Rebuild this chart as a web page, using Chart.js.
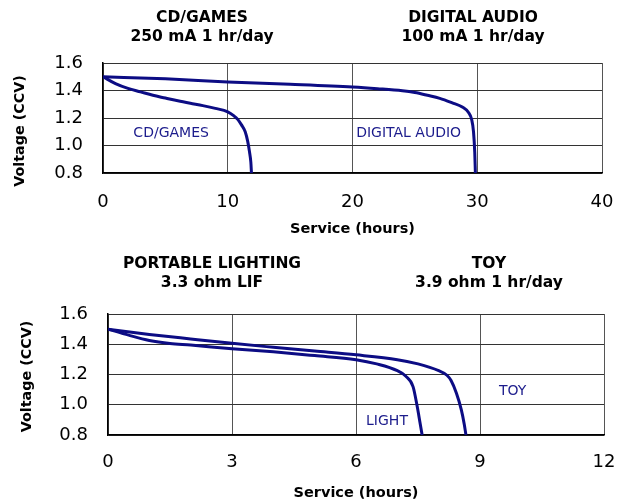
<!DOCTYPE html>
<html>
<head>
<meta charset="utf-8">
<script src="https://cdn.jsdelivr.net/npm/chart.js@4.4.1/dist/chart.umd.min.js"></script>
<style>
	html, body { margin: 0; padding: 0; background: #fff; }
	body { width: 623px; height: 502px; position: relative; overflow: hidden; }
	canvas { position: absolute; left: 0; }
</style>
</head>
<body>
<canvas id="topChart" width="623" height="250" style="top:0"></canvas>
<canvas id="bottomChart" width="623" height="252" style="top:250px"></canvas>
<script>
// Top chart: service hours vs closed circuit voltage
var cdHours = [0, 1, 2, 3, 4, 5, 6, 7, 8, 9, 10, 10.5, 10.8, 11.1, 11.4, 11.6, 11.75, 11.85, 11.9];
var cdVolts = [1.5, 1.45, 1.415, 1.39, 1.365, 1.345, 1.325, 1.307, 1.29, 1.27, 1.245, 1.215, 1.19, 1.15, 1.1, 1.03, 0.95, 0.88, 0.8];

var audioHours = [0, 5, 10, 15, 20, 22, 24, 25, 26, 27, 28, 28.8, 29.3, 29.55, 29.7, 29.8, 29.85];
var audioVolts = [1.5, 1.485, 1.462, 1.445, 1.425, 1.413, 1.398, 1.385, 1.365, 1.343, 1.31, 1.28, 1.24, 1.19, 1.1, 0.95, 0.8];

var topXTicks = [0, 10, 20, 30, 40];

// Bottom chart
var lightHours = [0, 0.5, 1, 1.5, 2, 3, 4, 5, 6, 6.5, 7, 7.2, 7.38, 7.48, 7.55, 7.6];
var lightVolts = [1.5, 1.46, 1.425, 1.405, 1.395, 1.37, 1.35, 1.325, 1.298, 1.27, 1.225, 1.19, 1.12, 0.99, 0.88, 0.8];

var toyHours = [0, 1, 2, 3, 4, 5, 6, 7, 7.5, 8, 8.2, 8.3, 8.43, 8.55, 8.62, 8.66];
var toyVolts = [1.5, 1.465, 1.435, 1.406, 1.38, 1.355, 1.33, 1.298, 1.27, 1.225, 1.195, 1.16, 1.076, 0.965, 0.87, 0.8];

var bottomXTicks = [0, 3, 6, 9, 12];
var voltTicks = [0.8, 1.0, 1.2, 1.4, 1.6];

var lineColor = '#0c0c84';
var textColor = '#1c1c8c';

function toPoints(xs, ys) {
	return xs.map(function (x, i) { return { x: x, y: ys[i] }; });
}

// draws the headings, the curve labels and the rotated y title
var notesPlugin = {
	id: 'notes',
	afterDraw: function (chart) {
		var opts = chart.options.plugins.notes;
		var ctx = chart.ctx;
		var area = chart.chartArea;
		ctx.save();
		ctx.textAlign = 'center';
		ctx.textBaseline = 'middle';

		ctx.fillStyle = '#000';
		ctx.font = 'bold 15.5px "DejaVu Sans"';
		opts.headings.forEach(function (h) {
			ctx.fillText(h.lines[0], h.x, h.y);
			ctx.fillText(h.lines[1], h.x, h.y + 19);
		});

		ctx.fillStyle = textColor;
		ctx.font = '14px "DejaVu Sans"';
		opts.labels.forEach(function (l) {
			ctx.fillText(l.text, chart.scales.x.getPixelForValue(l.x), chart.scales.y.getPixelForValue(l.y));
		});

		ctx.fillStyle = '#000';
		ctx.font = 'bold 14.3px "DejaVu Sans"';
		ctx.translate(opts.yTitle.x, (area.top + area.bottom) / 2 + opts.yTitle.dy);
		ctx.rotate(-Math.PI / 2);
		ctx.fillText(opts.yTitle.text, 0, 0);
		ctx.restore();
	}
};

function makeChart(id, cfg) {
	var ctx = document.getElementById(id).getContext('2d');
	return new Chart(ctx, {
		type: 'line',
		data: {
			datasets: cfg.series.map(function (s) {
				return {
					data: s,
					borderColor: lineColor,
					borderWidth: 3,
					pointRadius: 0,
					fill: false,
					cubicInterpolationMode: 'monotone'
				};
			})
		},
		options: {
			responsive: false,
			animation: false,
			layout: { padding: cfg.padding },
			plugins: {
				legend: { display: false },
				tooltip: { enabled: false },
				notes: cfg.notes
			},
			scales: {
				x: {
					type: 'linear',
					min: cfg.xTicks[0],
					max: cfg.xTicks[cfg.xTicks.length - 1],
					afterBuildTicks: function (scale) {
						scale.ticks = cfg.xTicks.map(function (v) { return { value: v }; });
					},
					afterFit: function (scale) {
						scale.height = cfg.xHeight;
						scale.paddingLeft = 0;
						scale.paddingRight = 0;
					},
					grid: { color: '#555', lineWidth: 1, drawTicks: false },
					border: { color: '#000', width: 1.5 },
					ticks: {
						color: '#000',
						padding: cfg.xTickPad,
						maxRotation: 0,
						font: { family: '"DejaVu Sans"', size: 18 }
					},
					title: {
						display: true,
						text: 'Service (hours)',
						color: '#000',
						padding: { top: 0, bottom: cfg.xTitlePad },
						font: { family: '"DejaVu Sans"', size: 14.5, weight: 'bold' }
					}
				},
				y: {
					min: 0.8,
					max: 1.6,
					afterBuildTicks: function (scale) {
						scale.ticks = voltTicks.map(function (v) { return { value: v }; });
					},
					afterFit: function (scale) {
						scale.width = cfg.yWidth;
						scale.paddingTop = 0;
						scale.paddingBottom = 0;
					},
					grid: { color: '#333', lineWidth: 1, drawTicks: false },
					border: { color: '#000', width: 1.5 },
					ticks: {
						color: '#000',
						padding: 20,
						font: { family: '"DejaVu Sans"', size: 18 },
						callback: function (v) { return Number(v).toFixed(1); }
					}
				}
			}
		},
		plugins: [notesPlugin]
	});
}

makeChart('topChart', {
	series: [toPoints(cdHours, cdVolts), toPoints(audioHours, audioVolts)],
	xTicks: topXTicks,
	padding: { left: 0, top: 63, right: 21, bottom: 9 },
	yWidth: 103,
	xHeight: 68,
	xTickPad: 19,
	xTitlePad: 3,
	notes: {
		headings: [
			{ lines: ['CD/GAMES', '250 mA 1 hr/day'], x: 202, y: 18 },
			{ lines: ['DIGITAL AUDIO', '100 mA 1 hr/day'], x: 473, y: 18 }
		],
		labels: [
			{ text: 'CD/GAMES', x: 5.46, y: 1.09 },
			{ text: 'DIGITAL AUDIO', x: 24.5, y: 1.09 }
		],
		yTitle: { text: 'Voltage (CCV)', x: 20, dy: 13 }
	}
});

makeChart('bottomChart', {
	series: [toPoints(lightHours, lightVolts), toPoints(toyHours, toyVolts)],
	xTicks: bottomXTicks,
	padding: { left: 0, top: 64, right: 19, bottom: 0 },
	yWidth: 108,
	xHeight: 67,
	xTickPad: 17,
	xTitlePad: 0,
	notes: {
		headings: [
			{ lines: ['PORTABLE LIGHTING', '3.3 ohm LIF'], x: 212, y: 14 },
			{ lines: ['TOY', '3.9 ohm 1 hr/day'], x: 489, y: 14 }
		],
		labels: [
			{ text: 'LIGHT', x: 6.75, y: 0.89 },
			{ text: 'TOY', x: 9.79, y: 1.09 }
		],
		yTitle: { text: 'Voltage (CCV)', x: 27, dy: 2 }
	}
});
</script>
</body>
</html>
